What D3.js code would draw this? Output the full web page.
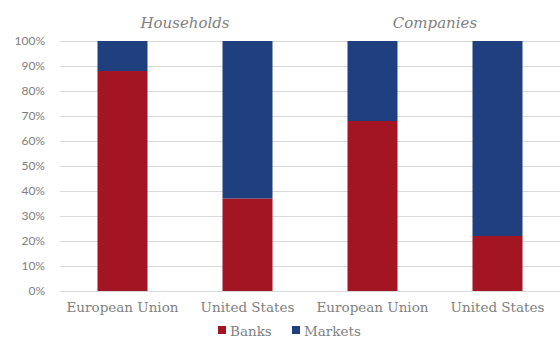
<!DOCTYPE html>
<html><head><meta charset="utf-8">
<script src="https://cdn.jsdelivr.net/npm/d3@7"></script>
<style>body{margin:0;background:#fff}</style>
</head><body>
<svg id="c" width="560" height="338"></svg>
<script>
const categories = ["European Union","United States","European Union","United States"];
const groups = ["Households","Companies"];
const banks = [88, 37, 68, 22];
const markets = [12, 63, 32, 78];
const yTicks = [0,10,20,30,40,50,60,70,80,90,100];
const seriesNames = ["Banks","Markets"];
const colors = ["#A31523","#203F7F"];

(function(){
const svg = d3.select("#c");
const mLeft = 60, mRight = 560, mTop = 41, mBottom = 291;
const x = d3.scaleBand().domain(d3.range(categories.length)).range([mLeft, mRight]).paddingInner(0.6).paddingOuter(0.3);
const y = d3.scaleLinear().domain([0,100]).range([mBottom, mTop]);

svg.append("g").selectAll("line").data(yTicks).join("line")
  .attr("x1", mLeft).attr("x2", mRight)
  .attr("y1", d=>y(d)+0.5).attr("y2", d=>y(d)+0.5)
  .attr("stroke", "#d9d9d9").attr("stroke-width", 1);

const yAxis = d3.axisLeft(y).tickValues(yTicks).tickFormat(d=>d+"%").tickSize(0).tickPadding(0);
const ya = svg.append("g").attr("transform", `translate(${mLeft-15},0)`).call(yAxis);
ya.select(".domain").remove();
ya.selectAll("text").attr("fill","#808080").style("font-family","Lato, 'Open Sans', sans-serif").style("font-size","12px");

const stackData = categories.map((c,i)=>({i, Banks: banks[i], Markets: markets[i]}));
const stack = d3.stack().keys(seriesNames)(stackData);
svg.append("g").selectAll("g").data(stack).join("g")
  .attr("fill", (d,k)=>colors[k])
  .selectAll("rect").data(d=>d).join("rect")
  .attr("x", d=>x(d.data.i))
  .attr("width", x.bandwidth())
  .attr("y", d=>y(d[1]))
  .attr("height", d=>y(d[0])-y(d[1]));

const xAxis = d3.axisBottom(x).tickFormat(i=>categories[i]).tickSize(0).tickPadding(0);
const xa = svg.append("g").attr("transform", `translate(0,${mBottom+11})`).call(xAxis);
xa.select(".domain").remove();
xa.selectAll("text").attr("fill","#7f7f7f").style("font-family","'DejaVu Serif', serif").style("font-size","13.5px").attr("dy","0.71em");

groups.forEach((g,k)=>{
  const cx = (x(2*k)+x(2*k+1)+x.bandwidth())/2;
  svg.append("text").attr("x", cx).attr("y", 28).attr("text-anchor","middle")
    .attr("fill","#7f7f7f").style("font-family","'DejaVu Serif', serif").style("font-style","italic").style("font-size","15px")
    .text(g);
});

const legendX = [218, 292];
seriesNames.forEach((s,k)=>{
  const lg = svg.append("g").attr("transform", `translate(${legendX[k]},326)`);
  lg.append("rect").attr("width",8).attr("height",8).attr("fill",colors[k]);
  lg.append("text").attr("x",12).attr("y",9.5).attr("fill","#7f7f7f")
    .style("font-family","'DejaVu Serif', serif").style("font-size","13.5px").text(s);
});
})();
</script>
</body></html>
